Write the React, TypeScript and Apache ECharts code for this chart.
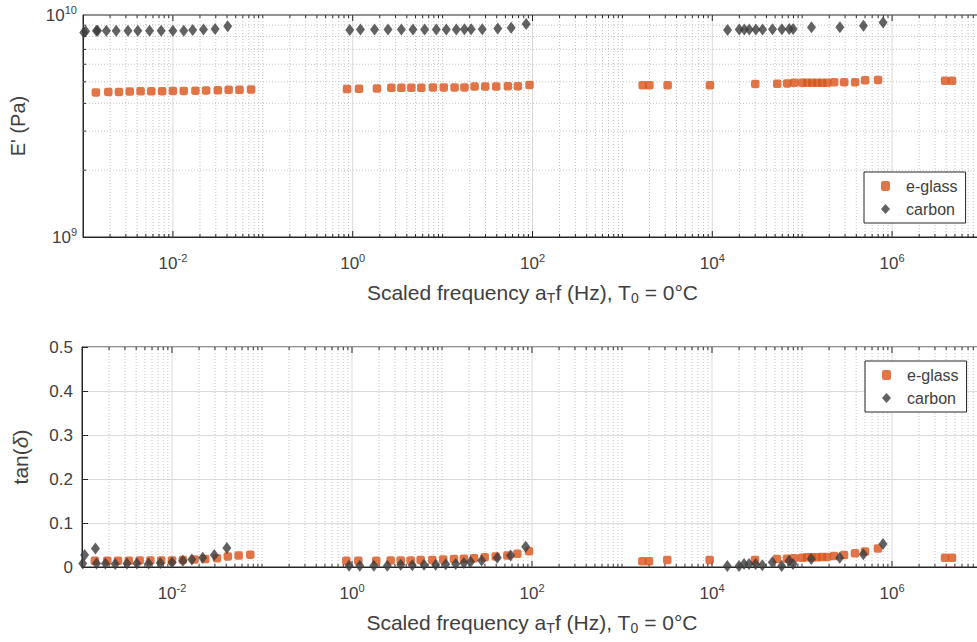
import React, { useEffect, useRef } from 'react';
import * as echarts from 'echarts';

// ---------- data ----------
// e-glass: scaled frequency (Hz), storage modulus E' (Pa), tan(delta)
const egFreq = [
  1.39e-3, 1.91e-3, 2.51e-3, 3.31e-3, 4.37e-3, 5.75e-3, 7.59e-3, 1.0e-2, 1.32e-2, 1.78e-2, 2.34e-2, 3.16e-2, 4.17e-2, 5.5e-2, 7.41e-2,
  0.865, 1.175, 1.86, 2.69, 3.48, 4.49, 5.79, 7.8, 10.3, 13.6, 17.5, 22.7, 29.8, 39.5, 53.2, 68.7, 92.7,
  1683, 1995, 3184, 9419, 30060, 52720, 68080, 81470, 1.0e5, 1.138e5, 1.291e5, 1.469e5, 1.667e5, 1.897e5, 2.27e5, 2.931e5, 3.882e5, 5.012e5, 6.982e5, 3.882e6, 4.645e6,
];
const egStorage = [
  4.48e9, 4.5e9, 4.5e9, 4.52e9, 4.53e9, 4.53e9, 4.54e9, 4.55e9, 4.55e9, 4.56e9, 4.57e9, 4.58e9, 4.6e9, 4.6e9, 4.62e9,
  4.64e9, 4.65e9, 4.66e9, 4.7e9, 4.7e9, 4.7e9, 4.7e9, 4.72e9, 4.72e9, 4.72e9, 4.72e9, 4.76e9, 4.76e9, 4.76e9, 4.78e9, 4.78e9, 4.84e9,
  4.82e9, 4.82e9, 4.82e9, 4.82e9, 4.89e9, 4.9e9, 4.92e9, 4.95e9, 4.95e9, 4.95e9, 4.95e9, 4.95e9, 4.95e9, 4.95e9, 4.98e9, 4.98e9, 4.98e9, 5.08e9, 5.1e9, 5.05e9, 5.05e9,
];
const egTan = [
  0.014, 0.014, 0.014, 0.014, 0.015, 0.015, 0.015, 0.015, 0.016, 0.017, 0.018, 0.02, 0.024, 0.026, 0.028,
  0.014, 0.014, 0.014, 0.015, 0.015, 0.015, 0.016, 0.016, 0.017, 0.018, 0.019, 0.02, 0.022, 0.024, 0.026, 0.03, 0.036,
  0.013, 0.013, 0.016, 0.016, 0.016, 0.018, 0.019, 0.02, 0.021, 0.022, 0.022, 0.022, 0.023, 0.023, 0.025, 0.027, 0.031, 0.035, 0.042, 0.021, 0.021,
];

// carbon
const cbFreq = [
  1.02e-3, 1.07e-3, 1.41e-3, 1.45e-3, 1.82e-3, 2.34e-3, 3.16e-3, 4.07e-3, 5.5e-3, 7.41e-3, 1.0e-2, 1.32e-2, 1.66e-2, 2.19e-2, 2.95e-2, 4.07e-2,
  0.927, 1.22, 1.75, 2.47, 3.48, 4.68, 6.31, 8.51, 11.0, 14.2, 17.5, 20.8, 27.6, 41.1, 57.9, 85.1,
  14790, 19950, 22700, 25760, 30550, 36220, 46770, 59430, 71780, 79430, 1.268e5, 2.624e5, 4.797e5, 7.943e5,
];
const cbStorage = [
  8.35e9, 8.45e9, 8.5e9, 8.5e9, 8.5e9, 8.5e9, 8.5e9, 8.5e9, 8.5e9, 8.5e9, 8.5e9, 8.5e9, 8.55e9, 8.6e9, 8.65e9, 8.9e9,
  8.55e9, 8.6e9, 8.6e9, 8.6e9, 8.6e9, 8.6e9, 8.6e9, 8.6e9, 8.6e9, 8.6e9, 8.62e9, 8.62e9, 8.62e9, 8.7e9, 8.75e9, 9.1e9,
  8.55e9, 8.6e9, 8.6e9, 8.6e9, 8.6e9, 8.6e9, 8.62e9, 8.62e9, 8.65e9, 8.65e9, 8.8e9, 8.8e9, 8.95e9, 9.25e9,
];
const cbTan = [
  0.008, 0.027, 0.042, 0.008, 0.008, 0.007, 0.008, 0.008, 0.008, 0.009, 0.01, 0.014, 0.017, 0.021, 0.027, 0.043,
  0.003, 0.003, 0.003, 0.003, 0.005, 0.004, 0.005, 0.005, 0.006, 0.007, 0.009, 0.012, 0.015, 0.021, 0.026, 0.046,
  0.002, 0.002, 0.007, 0.007, 0.007, 0.004, 0.011, 0.002, 0.014, 0.007, 0.018, 0.021, 0.029, 0.052,
];

const seriesNames = ['e-glass', 'carbon'];

// frequency axis drawn on decades (log10 of Hz)
const X_DECADE_MIN = -3;
const X_DECADE_MAX = 7;
const E_MIN = 1e9;
const E_MAX = 1e10;
const TAN_MIN = 0;
const TAN_MAX = 0.5;
const TAN_STEP = 0.1;

// ---------- styles ----------
const AXIS_COLOR = '#262626';
const TEXT_COLOR = '#404040';
const FONT = "'Liberation Sans', Arial, Helvetica, sans-serif";
const ORANGE = '#D95319';
const DARK = '#3b3b3b';

const supRich = {
  b: { fontSize: 17, lineHeight: 22, color: TEXT_COLOR, fontFamily: FONT },
  s: { fontSize: 11, lineHeight: 10, verticalAlign: 'top', color: TEXT_COLOR, fontFamily: FONT },
};
const titleRich = {
  n: { fontSize: 21, lineHeight: 25, color: TEXT_COLOR, fontFamily: FONT },
  sub: { fontSize: 14, lineHeight: 11, verticalAlign: 'bottom', color: TEXT_COLOR, fontFamily: FONT },
  i: { fontSize: 21, lineHeight: 25, fontStyle: 'italic', color: TEXT_COLOR, fontFamily: FONT },
};
const X_TITLE = '{n|Scaled frequency a}{sub|T}{n|f (Hz), T}{sub|0}{n| = 0°C}';

const lg = (v: number) => Math.log10(v);

// minor / major positions along the frequency axis
const xMarks: [number, number][] = [];
for (let k = X_DECADE_MIN; k < X_DECADE_MAX; k++) {
  for (let m = 1; m <= 9; m++) {
    if (m === 1 && k === X_DECADE_MIN) continue;
    const major = m === 1 && Math.abs(k) % 2 === 0 ? 1 : 0;
    xMarks.push([lg(m * Math.pow(10, k)), major]);
  }
}
const eMinor: number[] = [];
for (let m = 2; m <= 9; m++) eMinor.push(m * 1e9);

const xGridRender = (yRef: number) => (params: any, api: any) => {
  const cs = params.coordSys;
  const px = api.coord([api.value(0), yRef])[0];
  const major = api.value(2) === 1;
  const top = cs.y;
  const bot = cs.y + cs.height;
  const tl = major ? 6 : 3;
  return {
    type: 'group',
    children: [
      {
        type: 'line',
        shape: { x1: px, y1: top, x2: px, y2: bot },
        style: major
          ? { stroke: '#dadada', lineWidth: 1 }
          : { stroke: '#c4c4c4', lineWidth: 1, lineDash: [1, 2] },
      },
      { type: 'line', shape: { x1: px, y1: bot, x2: px, y2: bot - tl }, style: { stroke: AXIS_COLOR, lineWidth: 1 } },
      { type: 'line', shape: { x1: px, y1: top, x2: px, y2: top + tl }, style: { stroke: AXIS_COLOR, lineWidth: 1 } },
    ],
  };
};

const yGridRender = (xRef: number) => (params: any, api: any) => {
  const cs = params.coordSys;
  const py = api.coord([xRef, api.value(1)])[1];
  const left = cs.x;
  const right = cs.x + cs.width;
  return {
    type: 'group',
    children: [
      {
        type: 'line',
        shape: { x1: left, y1: py, x2: right, y2: py },
        style: { stroke: '#c4c4c4', lineWidth: 1, lineDash: [1, 2] },
      },
      { type: 'line', shape: { x1: left, y1: py, x2: left + 3, y2: py }, style: { stroke: AXIS_COLOR, lineWidth: 1 } },
    ],
  };
};

const xAxisFor = (gridIndex: number) => ({
  gridIndex,
  type: 'value',
  min: X_DECADE_MIN,
  max: X_DECADE_MAX,
  interval: 1,
  axisLine: { show: true, onZero: false, lineStyle: { color: AXIS_COLOR, width: 1 } },
  axisTick: { show: false },
  splitLine: { show: false },
  axisLabel: {
    margin: 15,
    showMinLabel: true,
    showMaxLabel: true,
    formatter: (v: number) => {
      const e = Math.round(v);
      return e % 2 === 0 ? `{b|10}{s|${e}}` : '';
    },
    rich: supRich,
  },
  name: X_TITLE,
  nameLocation: 'middle',
  nameGap: 43,
  nameTextStyle: { rich: titleRich },
});

const legendFor = (top: number, left: number) => ({
  data: seriesNames,
  orient: 'vertical',
  left,
  top,
  itemWidth: 9,
  itemHeight: 10,
  itemGap: 7,
  padding: [6, 8, 6, 17],
  borderColor: AXIS_COLOR,
  borderWidth: 1,
  backgroundColor: '#ffffff',
  selectedMode: false,
  textStyle: { fontSize: 16, color: TEXT_COLOR, fontFamily: FONT, padding: [0, 0, 0, 11] },
});

export default function App() {
  const ref = useRef<HTMLDivElement>(null);
  useEffect(() => {
    if (!ref.current) return;
    const chart = echarts.init(ref.current, null, { renderer: 'svg' });
    const egTop = egFreq.map((f, i) => [lg(f), egStorage[i]]);
    const cbTop = cbFreq.map((f, i) => [lg(f), cbStorage[i]]);
    const egBot = egFreq.map((f, i) => [lg(f), egTan[i]]);
    const cbBot = cbFreq.map((f, i) => [lg(f), cbTan[i]]);

    const option: any = {
      animation: false,
      backgroundColor: '#ffffff',
      textStyle: { fontFamily: FONT },
      grid: [
        { left: 82, top: 15, width: 900, height: 222, show: true, borderColor: AXIS_COLOR, borderWidth: 1, backgroundColor: 'transparent' },
        { left: 82, top: 347, width: 900, height: 220, show: true, borderColor: AXIS_COLOR, borderWidth: 1, backgroundColor: 'transparent' },
      ],
      legend: [legendFor(172, 864), legendFor(361, 865)],
      xAxis: [xAxisFor(0), xAxisFor(1)],
      yAxis: [
        {
          gridIndex: 0,
          type: 'log',
          logBase: 10,
          min: E_MIN,
          max: E_MAX,
          axisLine: { show: true, onZero: false, lineStyle: { color: AXIS_COLOR, width: 1 } },
          axisTick: { show: false },
          splitLine: { show: false },
          axisLabel: {
            margin: 6,
            formatter: (v: number) => `{b|10}{s|${Math.round(Math.log10(v))}}`,
            rich: supRich,
          },
          name: "E' (Pa)",
          nameLocation: 'middle',
          nameGap: 55,
          nameTextStyle: { fontSize: 20, color: TEXT_COLOR, fontFamily: FONT },
        },
        {
          gridIndex: 1,
          type: 'value',
          min: TAN_MIN,
          max: TAN_MAX,
          interval: TAN_STEP,
          axisLine: { show: true, onZero: false, lineStyle: { color: AXIS_COLOR, width: 1 } },
          axisTick: { show: true, inside: true, length: 6, lineStyle: { color: AXIS_COLOR } },
          splitLine: { show: true, lineStyle: { color: '#dadada', width: 1 } },
          axisLabel: { margin: 9, fontSize: 17, color: TEXT_COLOR, fontFamily: FONT },
          name: '{n|tan(}{i|δ}{n|)}',
          nameLocation: 'middle',
          nameGap: 49,
          nameTextStyle: { rich: titleRich },
        },
      ],
      series: [
        {
          type: 'custom', xAxisIndex: 0, yAxisIndex: 0, silent: true, z: 1, clip: false,
          renderItem: xGridRender(5e9), data: xMarks.map(([v, mj]) => [v, 5e9, mj]),
        },
        {
          type: 'custom', xAxisIndex: 0, yAxisIndex: 0, silent: true, z: 1, clip: false,
          renderItem: yGridRender(0), data: eMinor.map((v) => [0, v, 0]),
        },
        {
          type: 'custom', xAxisIndex: 1, yAxisIndex: 1, silent: true, z: 1, clip: false,
          renderItem: xGridRender(0.25), data: xMarks.map(([v, mj]) => [v, 0.25, mj]),
        },
        {
          name: seriesNames[0], type: 'scatter', xAxisIndex: 0, yAxisIndex: 0, z: 3,
          symbol: 'roundRect', symbolSize: 8.5, itemStyle: { color: ORANGE }, data: egTop,
        },
        {
          name: seriesNames[1], type: 'scatter', xAxisIndex: 0, yAxisIndex: 0, z: 4,
          symbol: 'diamond', symbolSize: [9, 12], itemStyle: { color: DARK }, data: cbTop,
        },
        {
          name: seriesNames[0], type: 'scatter', xAxisIndex: 1, yAxisIndex: 1, z: 3,
          symbol: 'roundRect', symbolSize: 8.5, itemStyle: { color: ORANGE }, data: egBot,
        },
        {
          name: seriesNames[1], type: 'scatter', xAxisIndex: 1, yAxisIndex: 1, z: 4,
          symbol: 'diamond', symbolSize: [9, 12], itemStyle: { color: DARK }, data: cbBot,
        },
      ],
    };
    chart.setOption(option);
    return () => chart.dispose();
  }, []);
  return (
    <div style={{ position: 'fixed', left: 0, top: 0, width: 977, height: 642, overflow: 'hidden', background: '#fff' }}>
      <div ref={ref} style={{ width: 1000, height: 642 }} />
    </div>
  );
}
